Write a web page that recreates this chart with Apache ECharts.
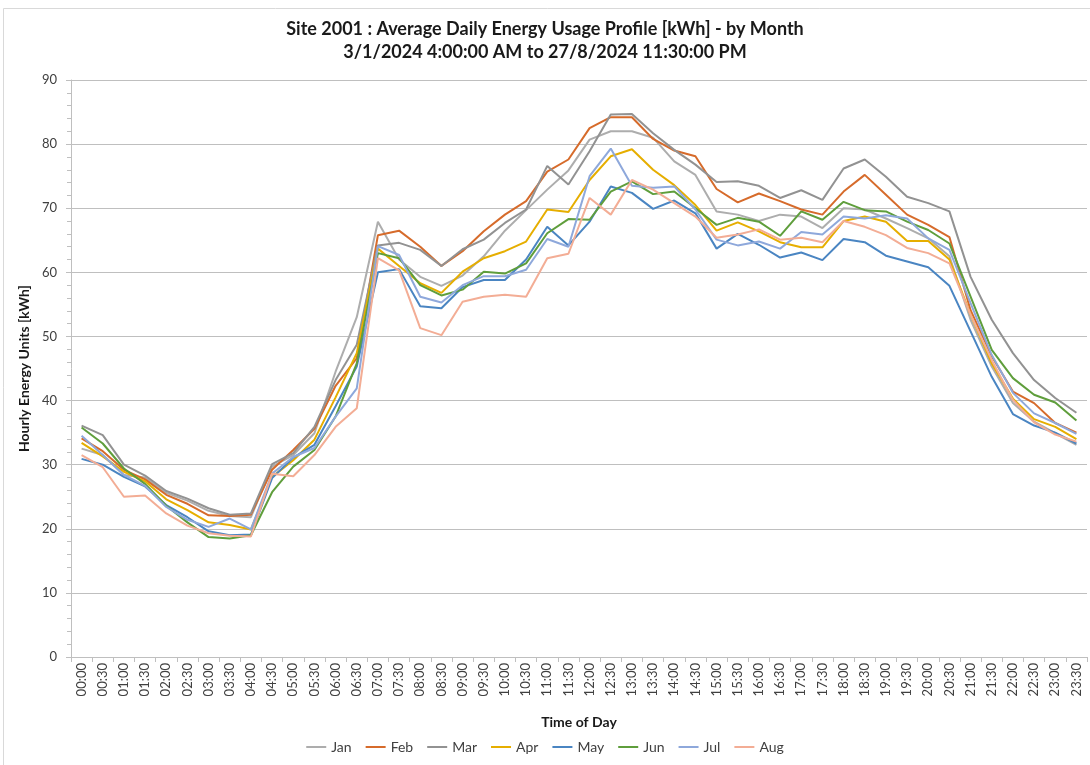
<!DOCTYPE html>
<html>
<head>
<meta charset="utf-8">
<script src="https://cdn.jsdelivr.net/npm/echarts@6/dist/echarts.min.js"></script>
<style>
  html, body { margin: 0; padding: 0; background: #fff; }
  #chart { width: 1090px; height: 765px; }
</style>
</head>
<body>
<div id="chart"></div>
<script>
// time of day categories (half hourly)
const times = ['00:00','00:30','01:00','01:30','02:00','02:30','03:00','03:30','04:00','04:30',
  '05:00','05:30','06:00','06:30','07:00','07:30','08:00','08:30','09:00','09:30',
  '10:00','10:30','11:00','11:30','12:00','12:30','13:00','13:30','14:00','14:30',
  '15:00','15:30','16:00','16:30','17:00','17:30','18:00','18:30','19:00','19:30',
  '20:00','20:30','21:00','21:30','22:00','22:30','23:00','23:30']

const months = ['Jan','Feb','Mar','Apr','May','Jun','Jul','Aug']
const yTicks = [0,10,20,30,40,50,60,70,80,90]

// kWh per half hour
const jan = [32.5,31.5,28.4,28.0,25.6,24.4,22.8,22.0,21.8,29.7,31.5,34.9,44.5,53.0,67.9,62.0,59.3,57.9,59.5,62.5,
  66.5,69.7,72.9,75.9,80.7,82.0,82.0,81.0,77.3,75.2,69.5,69.0,68.0,69.0,68.7,66.9,70.0,69.8,68.4,66.9,
  65.3,62.5,52.6,45.3,39.6,36.7,34.9,33.1]
const feb = [34.1,32.1,29.2,27.7,25.3,23.9,22.1,22.0,22.2,29.2,32.3,35.6,42.3,46.6,65.8,66.5,64.0,61.0,63.3,66.4,
  69.0,71.1,75.7,77.6,82.5,84.2,84.2,80.8,79.0,78.1,73.0,70.9,72.3,71.1,69.8,69.0,72.6,75.2,72.1,69.0,
  67.4,65.5,54.1,46.9,41.4,39.6,36.5,35.0]
const mar = [36.1,34.6,30.0,28.3,25.9,24.7,23.2,22.2,22.4,30.1,31.8,35.9,43.2,48.7,64.2,64.6,63.5,61.0,63.6,65.1,
  67.7,69.8,76.6,73.7,78.9,84.6,84.7,81.7,79.1,76.8,74.1,74.2,73.5,71.6,72.8,71.3,76.2,77.6,74.9,71.8,
  70.8,69.5,59.3,52.6,47.4,43.2,40.4,38.1]
const apr = [33.4,31.3,28.9,27.4,24.6,22.9,21.0,20.6,19.9,28.1,30.7,33.9,40.5,47.4,63.7,61.0,58.3,56.8,60.1,62.2,
  63.3,64.8,69.8,69.4,74.4,78.1,79.2,76.0,73.6,70.5,66.5,67.8,66.4,64.7,63.9,63.9,68.0,68.7,67.9,64.9,
  64.9,62.0,53.4,45.8,40.3,37.1,35.9,34.0]
const may = [30.9,30.0,28.1,26.6,23.7,21.8,19.6,19.0,19.1,27.9,31.1,33.1,39.1,45.3,60.0,60.5,54.7,54.4,57.7,58.8,
  58.8,62.0,67.1,64.2,67.9,73.4,72.4,69.9,71.2,69.2,63.7,66.0,64.3,62.3,63.1,61.9,65.2,64.7,62.6,61.7,
  60.8,57.9,50.8,43.7,37.9,36.1,35.0,33.3]
const jun = [35.8,33.3,29.4,27.0,23.6,21.0,18.7,18.5,19.0,25.7,29.7,32.3,37.5,45.8,63.0,62.2,58.0,56.4,57.3,60.1,
  59.8,61.4,66.1,68.3,68.2,72.6,74.2,72.2,72.6,70.0,67.4,68.5,67.9,65.7,69.5,68.2,71.0,69.7,69.5,67.9,
  66.6,64.5,56.2,47.9,43.5,40.9,39.7,36.9]
const jul = [34.5,31.5,28.4,26.7,23.4,21.4,20.3,21.6,19.9,28.6,31.2,32.6,37.5,41.9,64.1,62.7,56.2,55.3,58.0,59.4,
  59.4,60.4,65.2,64.0,75.0,79.3,73.5,73.2,73.4,69.8,65.1,64.2,64.8,63.7,66.3,65.9,68.7,68.4,68.9,68.4,
  65.3,63.5,55.2,47.1,41.2,38.0,36.5,34.8]
const aug = [31.5,29.6,25.0,25.2,22.4,20.5,19.3,18.9,18.8,28.6,28.2,31.5,35.9,38.8,62.2,60.3,51.3,50.2,55.4,56.2,
  56.5,56.2,62.2,62.9,71.6,69.0,74.4,72.9,70.8,68.7,65.4,65.9,66.7,65.1,65.4,64.7,68.0,67.1,65.8,63.8,
  63.0,61.4,53.4,46.3,40.1,36.6,34.7,33.6]

const seriesData = [jan, feb, mar, apr, may, jun, jul, aug]
const colors = ['#ADADAD','#D66B2B','#929292','#E6AE00','#4A85C2','#5F9E3C','#8EA8DB','#F3AD95']

const font = 'Lato, "Open Sans", sans-serif'

const chart = echarts.init(document.getElementById('chart'), null, {renderer: 'canvas'})

const option = {
  backgroundColor: '#fff',
  animation: false,
  color: colors,
  title: {
    text: 'Site 2001 : Average Daily Energy Usage Profile [kWh] - by Month\n3/1/2024 4:00:00 AM to 27/8/2024 11:30:00 PM',
    left: 'center',
    top: 13,
    textStyle: {
      fontFamily: font,
      fontSize: 18,
      fontWeight: 'bold',
      color: '#1a1a1a',
      lineHeight: 23
    }
  },
  legend: {
    data: months,
    bottom: 6,
    left: 'center',
    icon: 'rect',
    itemWidth: 20,
    itemHeight: 2,
    itemGap: 14,
    textStyle: { fontFamily: font, fontSize: 14, color: '#404040' }
  },
  grid: {
    left: 71,
    right: 3,
    top: 80,
    bottom: 108,
    containLabel: false
  },
  xAxis: {
    type: 'category',
    data: times,
    boundaryGap: true,
    name: 'Time of Day',
    nameLocation: 'middle',
    nameGap: 58,
    nameTextStyle: { fontFamily: font, fontSize: 14, fontWeight: 'bold', color: '#1a1a1a' },
    axisLine: { lineStyle: { color: '#BFBFBF', width: 1 } },
    axisTick: { show: true, alignWithLabel: false, length: 5, lineStyle: { color: '#BFBFBF' } },
    axisLabel: {
      rotate: 90,
      interval: 0,
      margin: 6,
      fontFamily: font,
      fontSize: 13,
      color: '#404040'
    },
    splitLine: { show: false }
  },
  yAxis: {
    type: 'value',
    min: yTicks[0],
    max: yTicks[yTicks.length - 1],
    interval: 10,
    name: 'Hourly Energy Units [kWh]',
    nameLocation: 'middle',
    nameGap: 31,
    nameTextStyle: { fontFamily: font, fontSize: 14, fontWeight: 'bold', color: '#1a1a1a' },
    axisLine: { show: true, lineStyle: { color: '#BFBFBF', width: 1 } },
    axisTick: { show: true, length: 5, lineStyle: { color: '#BFBFBF' } },
    minorTick: { show: true, splitNumber: 5, length: 4, lineStyle: { color: '#BFBFBF' } },
    axisLabel: { fontFamily: font, fontSize: 13, color: '#404040', margin: 14 },
    splitLine: { show: true, lineStyle: { color: '#BFBFBF', width: 1 } }
  },
  graphic: [{
    type: 'rect',
    shape: { x: 3.5, y: 8.5, width: 1200, height: 1000 },
    style: { fill: 'none', stroke: '#D9D9D9', lineWidth: 1 },
    silent: true
  }],
  series: months.map((m, i) => ({
    name: m,
    type: 'line',
    data: seriesData[i],
    showSymbol: false,
    symbol: 'none',
    lineStyle: { width: 2, color: colors[i] },
    itemStyle: { color: colors[i] }
  }))
}

chart.setOption(option)
</script>
</body>
</html>
